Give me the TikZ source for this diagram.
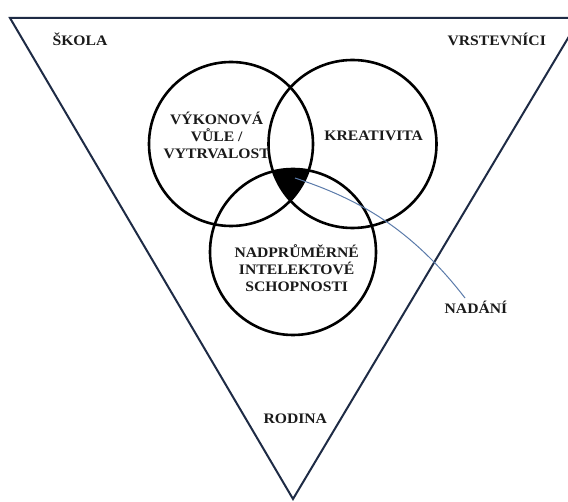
\documentclass[tikz,border=0pt]{standalone}
\usepackage{fontspec}
\setmainfont{Liberation Serif}[FakeStretch=1.08]
\definecolor{navy}{HTML}{1E2B45}
\definecolor{txt}{HTML}{1A1A1A}
\definecolor{linkblue}{HTML}{5B7BAA}
\begin{document}
\begin{tikzpicture}[x=1pt,y=-1pt,
  frame/.style={draw=navy,line width=2pt,line join=miter},
  ring/.style={circle,draw=black,line width=2.6pt,inner sep=0pt},
  lbl/.style={font=\fontsize{14.5}{17}\selectfont\bfseries,text=txt,inner sep=0pt,align=center,anchor=base},
  link/.style={draw=linkblue,line width=1pt}]
\useasboundingbox (0,0) rectangle (568,502);
\clip (0,0) rectangle (568,502);
\fill[white] (0,0) rectangle (568,502);
\draw[frame] (10,18) -- (580,18) -- (293,499) -- cycle;
% triple intersection
\begin{scope}
  \clip (231,144) circle (82pt);
  \clip (352.5,144) circle (84pt);
  \fill[black] (293,252) circle (83pt);
\end{scope}
\node[ring,minimum size=164pt] (will) at (231,144) {};
\node[ring,minimum size=168pt] (crea) at (352.5,144) {};
\node[ring,minimum size=166pt] (intel) at (293,252) {};
% labels
\node[lbl] (skola) at (80,45.7) {ŠKOLA};
\node[lbl] (vrst) at (496.7,45.7) {VRSTEVNÍCI};
\node[lbl] (kreat) at (373.7,140.7) {KREATIVITA};
\node[lbl] (vykon) at (216.7,158.3) {VÝKONOVÁ\\VŮLE /\\VYTRVALOST};
\node[lbl] (nadpr) at (296.7,291.7) {NADPRŮMĚRNÉ\\INTELEKTOVÉ\\SCHOPNOSTI};
\node[lbl] (rodina) at (295.3,424) {RODINA};
\node[lbl] (nadani) at (476,314) {NADÁNÍ};
% connector
\coordinate (tip) at (295,178);
\coordinate (tipend) at (465,298);
\draw[link] (tip) .. controls (352,197) and (408,224) .. (tipend);
\end{tikzpicture}
\end{document}
